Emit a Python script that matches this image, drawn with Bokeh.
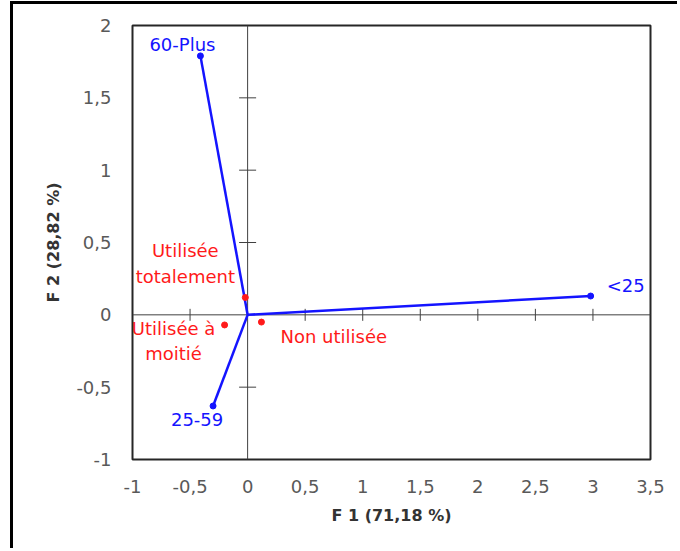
import numpy as np
from bokeh.plotting import figure
from bokeh.models import Span, FixedTicker, Range1d
from bokeh.core.properties import value
from bokeh.embed import file_html
from bokeh.resources import INLINE

# ---- data ----
age_groups = ["60-Plus", "<25", "25-59"]
age_f1 = [-0.41, 2.98, -0.30]
age_f2 = [1.79, 0.13, -0.63]

usage_cats = ["Utilisée\ntotalement", "Utilisée à\nmoitié", "Non utilisée"]
usage_f1 = [-0.02, -0.20, 0.12]
usage_f2 = [0.12, -0.07, -0.05]

x_ticks = [-1, -0.5, 0, 0.5, 1, 1.5, 2, 2.5, 3, 3.5]
x_tick_labels = ["-1", "-0,5", "0", "0,5", "1", "1,5", "2", "2,5", "3", "3,5"]
y_ticks = [-1, -0.5, 0, 0.5, 1, 1.5, 2]
y_tick_labels = ["-1", "-0,5", "0", "0,5", "1", "1,5", "2"]
x_title = "F 1 (71,18 %)"
y_title = "F 2 (28,82 %)"

# ---- styles ----
BLUE = "#1414ff"
RED = "#ff1a1a"
AXIS = "#404040"
FONT = "DejaVu Sans"

label_style = {
    "60-Plus": dict(dx=-18, dy=-11, align="center"),
    "<25": dict(dx=16, dy=-11, align="left"),
    "25-59": dict(dx=-16, dy=14, align="center"),
    "Utilisée\ntotalement": dict(dx=-60, dy=-34, align="center"),
    "Utilisée à\nmoitié": dict(dx=-51, dy=16, align="center"),
    "Non utilisée": dict(dx=19, dy=14, align="left"),
}

p = figure(width=667, height=547,
           x_range=Range1d(x_ticks[0], x_ticks[-1]),
           y_range=Range1d(y_ticks[0], y_ticks[-1]),
           output_backend="svg", toolbar_location=None,
           min_border_left=119, min_border_right=30,
           min_border_top=21, min_border_bottom=92)
p.styles = {"margin-left": "10px", "margin-top": "1px",
            "border-left": "3px solid black", "border-top": "3px solid black"}

p.grid.visible = False
p.outline_line_color = "#262626"
p.outline_line_width = 2
p.background_fill_color = "white"
p.border_fill_color = "white"

for ax, ticks, labels in ((p.xaxis[0], x_ticks, x_tick_labels),
                          (p.yaxis[0], y_ticks, y_tick_labels)):
    ax.ticker = FixedTicker(ticks=ticks)
    ax.major_label_overrides = {float(t): l for t, l in zip(ticks, labels)}
    ax.major_tick_line_color = None
    ax.minor_tick_line_color = None
    ax.axis_line_color = None
    ax.major_label_text_font = FONT
    ax.major_label_text_font_size = "18px"
    ax.major_label_text_color = "#595959"
    ax.axis_label_text_font = FONT
    ax.axis_label_text_font_size = "16px"
    ax.axis_label_text_font_style = "bold"
    ax.axis_label_text_color = "#333333"

p.xaxis.axis_label = x_title
p.yaxis.axis_label = y_title
p.xaxis.major_label_standoff = 14
p.yaxis.major_label_standoff = 15
p.xaxis.axis_label_standoff = 10
p.yaxis.axis_label_standoff = 10

# zero axes
p.add_layout(Span(location=0, dimension="height", line_color=AXIS, line_width=1, level="underlay"))
p.add_layout(Span(location=0, dimension="width", line_color=AXIS, line_width=1, level="underlay"))

inner_y = [t for t in y_ticks if t != 0 and y_ticks[0] < t < y_ticks[-1]]
inner_x = [t for t in x_ticks if t != 0 and x_ticks[0] < t < x_ticks[-1]]
p.scatter(x=[0] * len(inner_y), y=inner_y, marker="dash", size=17,
          line_color=AXIS, line_width=1, level="underlay")
p.scatter(x=inner_x, y=[0] * len(inner_x), marker="dash", size=12, angle=np.pi / 2,
          line_color=AXIS, line_width=1, level="underlay")

# age group vectors
p.segment(x0=[0] * len(age_f1), y0=[0] * len(age_f2), x1=age_f1, y1=age_f2,
          line_color=BLUE, line_width=2.5)
p.scatter(x=age_f1, y=age_f2, size=6, fill_color=BLUE, line_color=BLUE)
p.scatter(x=usage_f1, y=usage_f2, size=6, fill_color=RED, line_color=RED)

for names, xs, ys, col in ((age_groups, age_f1, age_f2, BLUE),
                           (usage_cats, usage_f1, usage_f2, RED)):
    for n, xv, yv in zip(names, xs, ys):
        st = label_style[n]
        p.text(x=[xv], y=[yv], text=[n], x_offset=st["dx"], y_offset=st["dy"],
               text_align=st["align"], text_baseline="middle",
               text_font=value(FONT), text_font_size="18px", text_color=col,
               text_line_height=1.2)

open("out.html", "w").write(file_html(p, INLINE))
